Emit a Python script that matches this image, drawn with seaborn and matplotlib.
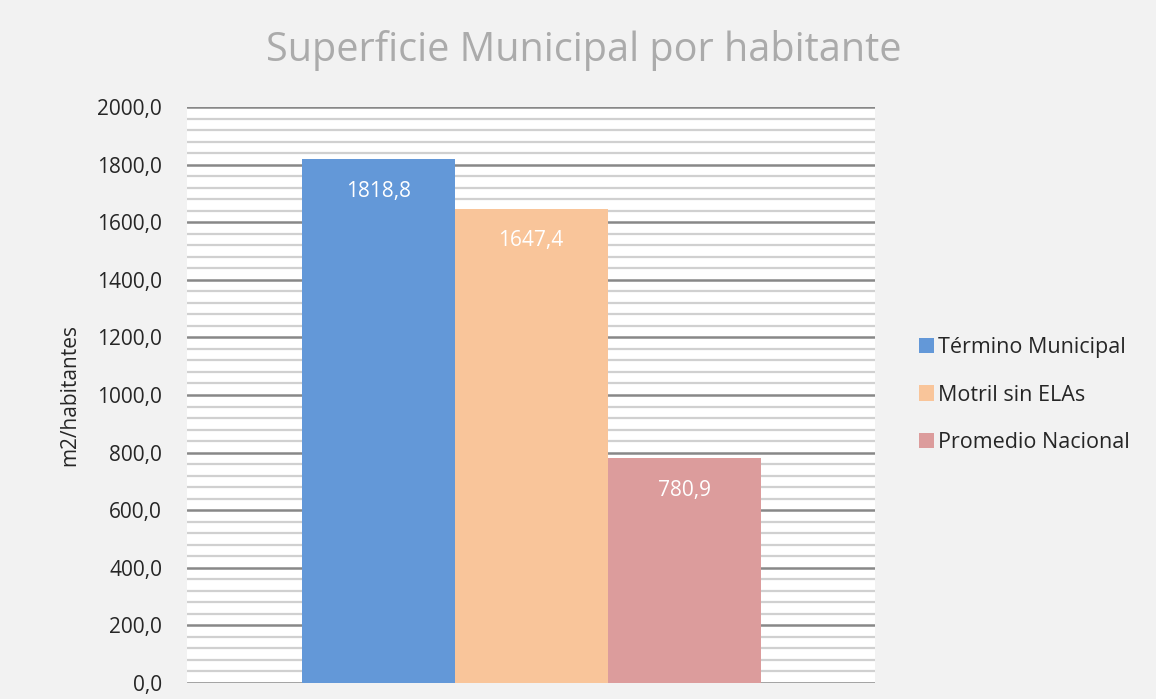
import pandas as pd
import matplotlib.pyplot as plt
import seaborn as sns
from matplotlib.ticker import FuncFormatter, MultipleLocator

# ── DATOS ─────────────────────────────────────────────────────────────────────
series = ["Término Municipal", "Motril sin ELAs", "Promedio Nacional"]
valores = [1818.8, 1647.4, 780.9]
colores = ["#6398d8", "#f9c59a", "#dc9c9c"]

titulo = "Superficie Municipal por habitante"
etiqueta_y = "m2/habitantes"


def coma(v, pos=None):
    return f"{v:.1f}".replace(".", ",")


df = pd.DataFrame({"grupo": [""] * len(series), "serie": series, "valor": valores})

sns.set_style("white")
plt.rcParams["font.family"] = ["Open Sans", "DejaVu Sans"]

fig = plt.figure(figsize=(11.56, 6.99), dpi=100, facecolor="#f2f2f2")
ax = fig.add_axes([0.1618, 0.0229, 0.5952, 0.8240])
ax.set_facecolor("white")

sns.barplot(data=df, x="grupo", y="valor", hue="serie", palette=colores,
            width=0.667, saturation=1, linewidth=0, ax=ax, legend=True)

ax.set_xlim(-0.5, 0.5)
ax.set_ylim(0, 2000)
ax.yaxis.set_major_locator(MultipleLocator(200))
ax.yaxis.set_minor_locator(MultipleLocator(40))
ax.yaxis.set_major_formatter(FuncFormatter(coma))
ax.grid(which="minor", axis="y", color="#d0d0d0", linewidth=1.6)
ax.grid(which="major", axis="y", color="#888888", linewidth=1.8)
ax.set_axisbelow(True)
for s in ax.spines.values():
    s.set_visible(False)
ax.tick_params(axis="y", which="both", length=0, labelsize=15, colors="#262626", pad=18)
ax.tick_params(axis="x", length=0)
ax.set_xticklabels([])
ax.set_xlabel("")
ax.set_ylabel(etiqueta_y, fontsize=15, color="#262626", labelpad=12)

for p in ax.patches:
    h = p.get_height()
    if h > 0:
        ax.annotate(coma(h), (p.get_x() + p.get_width() / 2, h),
                    xytext=(0, -23), textcoords="offset points",
                    ha="center", va="center", fontsize=15, color="white")

fig.text(0.505, 0.928, titulo, ha="center", va="center", fontsize=28.5, color="#ababab")

ax.legend(loc="center left", bbox_to_anchor=(1.035, 0.5), frameon=False,
          fontsize=15.5, handlelength=0.7, handleheight=0.7, handletextpad=0.2,
          labelspacing=1.25, labelcolor="#262626")

fig.savefig("out.png", dpi=100, facecolor=fig.get_facecolor())
